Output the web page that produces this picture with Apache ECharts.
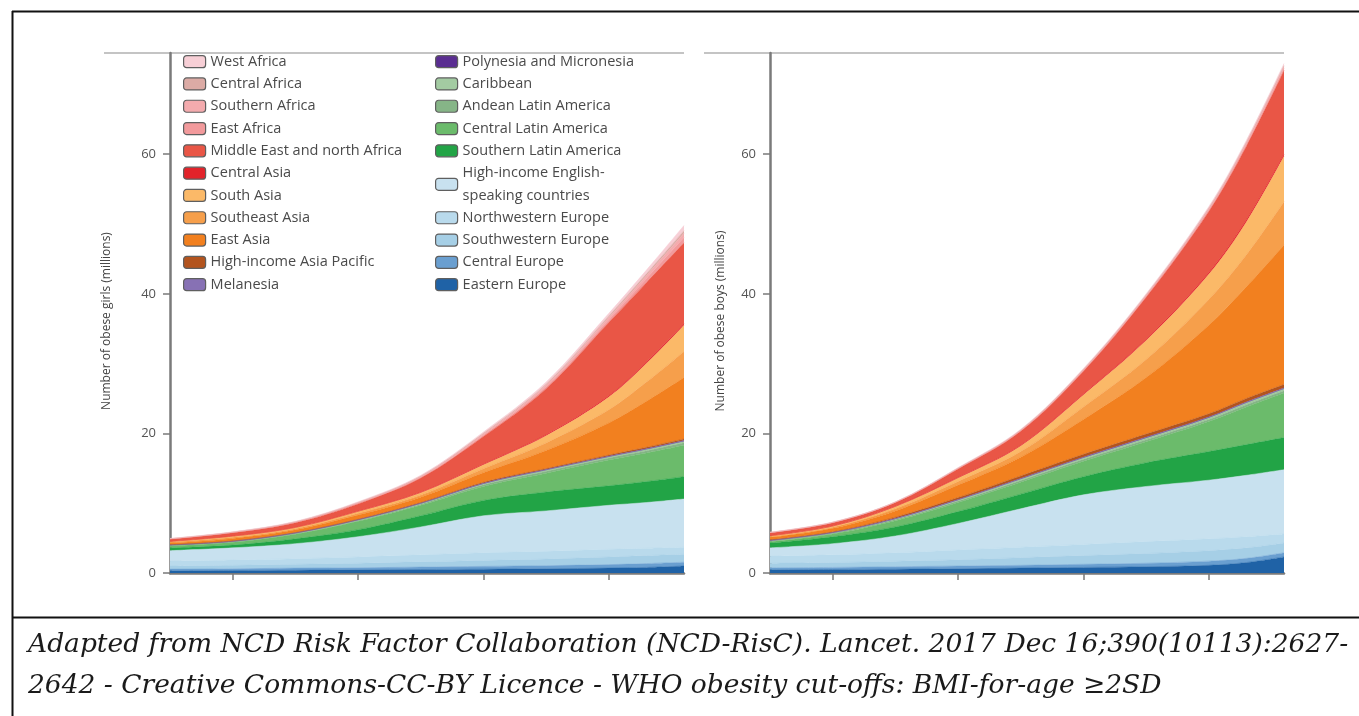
<!DOCTYPE html>
<html><head><meta charset="utf-8">
<script src="https://cdn.jsdelivr.net/npm/echarts@6/dist/echarts.min.js"></script>
<style>html,body{margin:0;padding:0;background:#fff}#c{width:1359px;height:716px}</style>
</head><body><div id="c"></div>
<script>
// ---------- data ----------
const years = [1975, 1980, 1985, 1990, 1995, 2000, 2005, 2010, 2013, 2016];
const xTickYears = [1980, 1990, 2000, 2010];
const yTickValues = [0, 20, 40, 60];

// regions in stacking order (bottom -> top)
const regionNames = [
  'Eastern Europe', 'Central Europe', 'Southwestern Europe', 'Northwestern Europe',
  'High-income English-speaking countries', 'Southern Latin America', 'Central Latin America',
  'Andean Latin America', 'Caribbean', 'Polynesia and Micronesia', 'Melanesia',
  'High-income Asia Pacific', 'East Asia', 'Southeast Asia', 'South Asia', 'Central Asia',
  'Middle East and north Africa', 'East Africa', 'Southern Africa', 'Central Africa', 'West Africa'
];
const regionColors = [
  '#1f62a6', '#6a9fd0', '#a6cfe6', '#b9daec',
  '#c8e1ef', '#22a446', '#6bbb6b',
  '#86b587', '#a3cba2', '#5a2d91', '#8771b4',
  '#b3541e', '#f2801f', '#f69f4b', '#fbb968', '#e2232a',
  '#e95646', '#f29a9c', '#f4abae', '#dcaba5', '#f7cfd6'
];
const legendLeftColumn = ['West Africa', 'Central Africa', 'Southern Africa', 'East Africa',
  'Middle East and north Africa', 'Central Asia', 'South Asia', 'Southeast Asia', 'East Asia',
  'High-income Asia Pacific', 'Melanesia'];
const legendRightColumn = ['Polynesia and Micronesia', 'Caribbean', 'Andean Latin America',
  'Central Latin America', 'Southern Latin America', 'High-income English-speaking countries',
  'Northwestern Europe', 'Southwestern Europe', 'Central Europe', 'Eastern Europe'];

// girls (millions), per region
const girlsEasternEurope      = [0.30, 0.35, 0.40, 0.45, 0.50, 0.55, 0.60, 0.70, 0.80, 1.00];
const girlsCentralEurope      = [0.25, 0.25, 0.30, 0.30, 0.35, 0.40, 0.45, 0.50, 0.55, 0.55];
const girlsSouthwesternEurope = [0.45, 0.50, 0.55, 0.65, 0.75, 0.85, 0.95, 1.10, 1.15, 1.15];
const girlsNorthwesternEurope = [0.70, 0.75, 0.80, 0.90, 1.00, 1.10, 1.10, 1.10, 1.05, 1.00];
const girlsHighIncomeEnglish  = [1.50, 1.75, 2.15, 2.90, 4.00, 5.30, 5.80, 6.30, 6.55, 6.90];
const girlsSouthernLatAm      = [0.40, 0.40, 0.70, 1.00, 1.60, 2.20, 2.70, 2.80, 3.00, 3.20];
const girlsCentralLatAm       = [0.30, 0.40, 0.65, 1.20, 1.50, 2.00, 2.70, 3.70, 4.10, 4.50];
const girlsAndeanLatAm        = [0.06, 0.08, 0.10, 0.12, 0.16, 0.24, 0.28, 0.28, 0.32, 0.36];
const girlsCaribbean          = [0.04, 0.05, 0.06, 0.08, 0.10, 0.15, 0.17, 0.17, 0.20, 0.22];
const girlsPolynesia          = [0.01, 0.01, 0.02, 0.02, 0.02, 0.03, 0.04, 0.04, 0.04, 0.05];
const girlsMelanesia          = [0.01, 0.01, 0.02, 0.02, 0.02, 0.03, 0.04, 0.04, 0.04, 0.05];
const girlsHighIncomeAsiaPac  = [0.03, 0.05, 0.05, 0.06, 0.10, 0.15, 0.13, 0.17, 0.20, 0.22];
const girlsEastAsia           = [0.25, 0.36, 0.39, 0.60, 0.77, 1.38, 2.60, 4.60, 6.60, 8.80];
const girlsSoutheastAsia      = [0.10, 0.15, 0.16, 0.25, 0.32, 0.57, 1.07, 1.88, 2.75, 3.75];
const girlsSouthAsia          = [0.10, 0.14, 0.15, 0.25, 0.31, 0.55, 1.03, 1.82, 2.65, 3.75];
const girlsCentralAsia        = [0.02, 0.03, 0.03, 0.04, 0.06, 0.10, 0.14, 0.18, 0.20, 0.20];
const girlsMiddleEastNAfrica  = [0.33, 0.47, 0.67, 1.06, 2.04, 3.95, 6.61, 10.52, 11.40, 11.60];
const girlsEastAfrica         = [0.03, 0.05, 0.06, 0.09, 0.12, 0.20, 0.28, 0.40, 0.55, 0.75];
const girlsSouthernAfrica     = [0.03, 0.04, 0.05, 0.08, 0.10, 0.16, 0.24, 0.32, 0.45, 0.62];
const girlsCentralAfrica      = [0.01, 0.02, 0.03, 0.04, 0.06, 0.10, 0.14, 0.20, 0.27, 0.38];
const girlsWestAfrica         = [0.03, 0.04, 0.06, 0.09, 0.12, 0.19, 0.29, 0.38, 0.53, 0.75];

// boys (millions), per region
const boysEasternEurope      = [0.45, 0.50, 0.55, 0.60, 0.70, 0.80, 0.90, 1.10, 1.50, 2.30];
const boysCentralEurope      = [0.30, 0.30, 0.35, 0.40, 0.40, 0.45, 0.50, 0.60, 0.60, 0.60];
const boysSouthwesternEurope = [0.65, 0.70, 0.80, 0.90, 1.10, 1.25, 1.40, 1.50, 1.50, 1.40];
const boysNorthwesternEurope = [1.00, 1.10, 1.20, 1.40, 1.50, 1.60, 1.70, 1.70, 1.60, 1.30];
const boysHighIncomeEnglish  = [1.20, 1.60, 2.40, 3.80, 5.50, 7.10, 7.90, 8.40, 8.80, 9.20];
const boysSouthernLatAm      = [0.70, 1.00, 1.30, 1.70, 2.10, 2.60, 3.40, 4.10, 4.40, 4.60];
const boysCentralLatAm       = [0.20, 0.40, 0.90, 1.30, 1.70, 2.20, 3.00, 4.30, 5.40, 6.40];
const boysAndeanLatAm        = [0.08, 0.10, 0.15, 0.20, 0.25, 0.28, 0.30, 0.30, 0.32, 0.32];
const boysCaribbean          = [0.06, 0.07, 0.10, 0.15, 0.20, 0.22, 0.25, 0.25, 0.26, 0.26];
const boysPolynesia          = [0.02, 0.02, 0.03, 0.04, 0.05, 0.05, 0.05, 0.05, 0.06, 0.06];
const boysMelanesia          = [0.02, 0.02, 0.03, 0.04, 0.05, 0.05, 0.05, 0.05, 0.06, 0.06];
const boysHighIncomeAsiaPac  = [0.07, 0.09, 0.19, 0.27, 0.35, 0.40, 0.45, 0.45, 0.50, 0.50];
const boysEastAsia           = [0.35, 0.50, 0.90, 1.80, 2.70, 5.00, 8.10, 12.7, 16.0, 20.0];
const boysSoutheastAsia      = [0.10, 0.15, 0.30, 0.50, 0.80, 1.80, 2.60, 3.70, 4.60, 6.20];
const boysSouthAsia          = [0.10, 0.15, 0.30, 0.50, 0.80, 1.70, 2.70, 3.60, 4.70, 6.50];
const boysCentralAsia        = [0.03, 0.03, 0.05, 0.08, 0.10, 0.15, 0.20, 0.25, 0.30, 0.30];
const boysMiddleEastNAfrica  = [0.42, 0.47, 0.55, 1.22, 2.00, 3.25, 6.00, 8.75, 10.55, 12.0];
const boysEastAfrica         = [0.03, 0.03, 0.03, 0.06, 0.09, 0.12, 0.15, 0.20, 0.25, 0.30];
const boysSouthernAfrica     = [0.03, 0.03, 0.03, 0.05, 0.08, 0.10, 0.13, 0.18, 0.22, 0.25];
const boysCentralAfrica      = [0.01, 0.01, 0.01, 0.03, 0.04, 0.06, 0.07, 0.10, 0.13, 0.15];
const boysWestAfrica         = [0.03, 0.03, 0.03, 0.06, 0.09, 0.12, 0.15, 0.22, 0.25, 0.30];

const girlsSeries = [girlsEasternEurope, girlsCentralEurope, girlsSouthwesternEurope, girlsNorthwesternEurope,
  girlsHighIncomeEnglish, girlsSouthernLatAm, girlsCentralLatAm, girlsAndeanLatAm, girlsCaribbean,
  girlsPolynesia, girlsMelanesia, girlsHighIncomeAsiaPac, girlsEastAsia, girlsSoutheastAsia, girlsSouthAsia,
  girlsCentralAsia, girlsMiddleEastNAfrica, girlsEastAfrica, girlsSouthernAfrica, girlsCentralAfrica, girlsWestAfrica];
const boysSeries = [boysEasternEurope, boysCentralEurope, boysSouthwesternEurope, boysNorthwesternEurope,
  boysHighIncomeEnglish, boysSouthernLatAm, boysCentralLatAm, boysAndeanLatAm, boysCaribbean,
  boysPolynesia, boysMelanesia, boysHighIncomeAsiaPac, boysEastAsia, boysSoutheastAsia, boysSouthAsia,
  boysCentralAsia, boysMiddleEastNAfrica, boysEastAfrica, boysSouthernAfrica, boysCentralAfrica, boysWestAfrica];

const captionLine1 = 'Adapted from NCD Risk Factor Collaboration (NCD-RisC). Lancet. 2017 Dec 16;390(10113):2627-';
const captionLine2 = '2642 - Creative Commons-CC-BY Licence - WHO obesity cut-offs: BMI-for-age \u22652SD';

// ---------- chart ----------
const axisGrey = '#7a7a7a';
const font = 'Open Sans';
const yr = y => Date.UTC(y, 0, 1);

function buildSeries(arrays, idx) {
  return regionNames.map((name, i) => ({
    name: name,
    type: 'line',
    xAxisIndex: idx, yAxisIndex: idx,
    stack: 'total' + idx,
    smooth: 0.35,
    symbol: 'none', showSymbol: false,
    color: regionColors[i],
    itemStyle: { color: regionColors[i] },
    lineStyle: { width: 0.5, color: regionColors[i] },
    areaStyle: { color: regionColors[i], opacity: 1 },
    emphasis: { disabled: true },
    silent: true,
    data: years.map((y, j) => [yr(y), arrays[i][j]])
  }));
}

function xAxis(idx) {
  return {
    type: 'time', gridIndex: idx, min: yr(1975), max: yr(2016),
    axisLine: { show: true, onZero: false, lineStyle: { color: axisGrey, width: 2.5 } },
    axisTick: { show: true, customValues: xTickYears.map(yr), length: 7, lineStyle: { color: axisGrey, width: 1.5 } },
    axisLabel: { show: false },
    splitLine: { show: false }
  };
}
function yAxis(idx, name, gap) {
  return {
    type: 'value', gridIndex: idx, min: 0, max: 74.5, interval: 20,
    name: name, nameLocation: 'middle', nameGap: gap,
    nameTextStyle: { fontFamily: font, fontSize: 12, color: '#444', padding: [0, 16, 0, 0] },
    axisLine: { show: true, lineStyle: { color: axisGrey, width: 2.5 } },
    axisTick: { show: true, customValues: yTickValues, length: 7, lineStyle: { color: axisGrey, width: 1.5 } },
    axisLabel: { customValues: yTickValues, color: '#555', fontSize: 13, fontFamily: font, margin: 14 },
    splitLine: { show: false }
  };
}

const legendCommon = {
  orient: 'vertical', padding: 0, itemGap: 0, itemWidth: 22, itemHeight: 12,
  icon: 'roundRect', selectedMode: false,
  itemStyle: { borderColor: '#5f5f5f', borderWidth: 1.2 },
  textStyle: { fontFamily: font, fontSize: 14.5, color: '#4a4a4a', lineHeight: 22.3 },
  formatter: n => n === 'High-income English-speaking countries' ? 'High-income English-\nspeaking countries' : n
};

const chart = echarts.init(document.getElementById('c'), null, { renderer: 'canvas' });
chart.setOption({
  animation: false,
  backgroundColor: '#fff',
  grid: [
    { left: 170, top: 53, width: 514, height: 520 },
    { left: 770, top: 53, width: 514, height: 520 }
  ],
  xAxis: [xAxis(0), xAxis(1)],
  yAxis: [yAxis(0, 'Number of obese girls (millions)', 57), yAxis(1, 'Number of obese boys (millions)', 43)],
  legend: [
    Object.assign({ left: 183, top: 50.5, data: legendLeftColumn }, legendCommon),
    Object.assign({ left: 435, top: 50.5, data: legendRightColumn }, legendCommon)
  ],
  series: buildSeries(girlsSeries, 0).concat(buildSeries(boysSeries, 1)),
  graphic: [
    { type: 'line', silent: true, z: -1, shape: { x1: 104, y1: 53, x2: 684, y2: 53 }, style: { stroke: '#c4c4c4', lineWidth: 2 } },
    { type: 'line', silent: true, z: -1, shape: { x1: 704, y1: 53, x2: 1284, y2: 53 }, style: { stroke: '#c4c4c4', lineWidth: 2 } },
    { type: 'line', silent: true, shape: { x1: 12, y1: 11.5, x2: 1359, y2: 11.5 }, style: { stroke: '#111', lineWidth: 2 } },
    { type: 'line', silent: true, shape: { x1: 12.5, y1: 11, x2: 12.5, y2: 716 }, style: { stroke: '#111', lineWidth: 2 } },
    { type: 'line', silent: true, shape: { x1: 12, y1: 617.5, x2: 1359, y2: 617.5 }, style: { stroke: '#111', lineWidth: 2 } },
    { type: 'text', silent: true, style: { x: 28, y: 645, text: captionLine1, font: 'italic 26.5px "DejaVu Serif"', fill: '#1a1a1a', textVerticalAlign: 'middle' } },
    { type: 'text', silent: true, style: { x: 28, y: 686, text: captionLine2, font: 'italic 26.5px "DejaVu Serif"', fill: '#1a1a1a', textVerticalAlign: 'middle' } }
  ]
});
</script></body></html>
